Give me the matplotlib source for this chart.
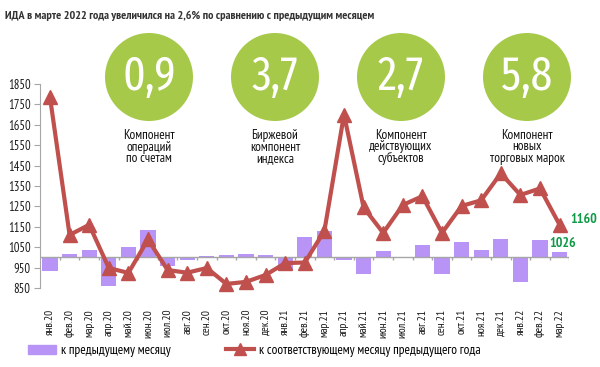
import matplotlib.pyplot as plt
from matplotlib.patches import Ellipse, Patch
from matplotlib.lines import Line2D

plt.rcParams['font.family'] = ['PT Sans Narrow', 'DejaVu Sans']

months = ['янв.20', 'фев.20', 'мар.20', 'апр.20', 'май.20', 'июн.20', 'июл.20',
          'авг.20', 'сен.20', 'окт.20', 'ноя.20', 'дек.20', 'янв.21', 'фев.21',
          'мар.21', 'апр.21', 'май.21', 'июн.21', 'июл.21', 'авг.21', 'сен.21',
          'окт.21', 'ноя.21', 'дек.21', 'янв.22', 'фев.22', 'мар.22']

# к предыдущему месяцу (bars start at 1000)
mom = [935, 1015, 1035, 860, 1052, 1132, 960, 985, 1005, 1010, 1015, 1012,
       935, 1100, 1130, 988, 920, 1032, 1001, 1060, 920, 1075, 1038, 1088,
       880, 1085, 1026]

# к соответствующему месяцу предыдущего года
yoy = [1785, 1110, 1160, 948, 924, 1088, 938, 925, 948, 870, 880, 914,
       972, 975, 1130, 1700, 1245, 1120, 1257, 1300, 1120, 1252, 1280,
       1412, 1306, 1338, 1160]

comp_values = ['0,9', '3,7', '2,7', '5,8']
comp_labels = ['Компонент\nопераций\nпо счетам', 'Биржевой\nкомпонент\nиндекса',
               'Компонент\nдействующих\nсубъектов', 'Компонент\nновых\nторговых марок']

bar_color = '#b794f6'
line_color = '#c0504d'
green = '#a6c94a'
W, H = 600, 367

fig = plt.figure(figsize=(6, 3.67), dpi=100)

# overlay in pixel coordinates for the infographic circles
deco = fig.add_axes([0, 0, 1, 1], zorder=0)
deco.set_xlim(0, W)
deco.set_ylim(H, 0)
deco.axis('off')
for cx, val, lab in zip([149, 275, 401, 527], comp_values, comp_labels):
    deco.add_patch(Ellipse((cx, 77), 88, 88, color=green, lw=0))
    deco.text(cx, 77, val, color='white', fontsize=34, ha='center', va='center',
              family=['Fira Sans Extra Condensed', 'PT Sans Narrow'], fontweight='normal')
    deco.text(cx, 147, lab, color='#111111', fontsize=9.5, ha='center', va='center',
              linespacing=0.82)

fig.text(0.008, 0.958, 'ИДА в марте 2022 года увеличился на 2,6% по сравнению с предыдущим месяцем',
         fontsize=8.7, fontweight='bold', color='#333333', va='center')

ax = fig.add_axes([40.2 / W, 1 - 288 / H, 529.2 / W, 204 / H], zorder=2)
ax.patch.set_alpha(0)
x = range(len(months))
ax.bar(x, [v - 1000 for v in mom], bottom=1000, width=0.78, color=bar_color, zorder=1)
ax.plot(x, yoy, color=line_color, lw=3, marker='^', markersize=10, zorder=3,
        clip_on=False)
ax.axhline(1000, color='#a6a6a6', lw=1, zorder=2)
ax.vlines([i + 0.5 for i in range(len(months))], 985, 1000, color='#a6a6a6', lw=1, zorder=2)

ax.set_xlim(-0.5, len(months) - 0.5)
ax.set_ylim(850, 1850)
ax.set_yticks(range(850, 1851, 100))
ax.set_xticks(list(x))
ax.set_xticklabels(months, rotation=90, fontsize=8.3, color='#1a1a1a')
ax.tick_params(axis='x', length=0, pad=15)
ax.tick_params(axis='y', labelsize=9, colors='#1a1a1a', color='#a6a6a6', length=4, pad=3)
for s in ['top', 'right', 'bottom']:
    ax.spines[s].set_visible(False)
ax.spines['left'].set_color('#a6a6a6')

ax.text(len(months) - 0.45, yoy[-1] + 28, str(yoy[-1]), color='#109a48', fontsize=10,
        fontweight='bold', va='center', ha='left', clip_on=False)
ax.text(len(months) - 1.55, mom[-1] + 40, str(mom[-1]), color='#109a48', fontsize=10,
        fontweight='bold', va='center', ha='left')

handles = [Patch(color=bar_color),
           Line2D([], [], color=line_color, lw=3, marker='^', markersize=9)]
fig.legend(handles, ['к предыдущему месяцу', 'к соответствующему месяцу предыдущего года'],
           loc='center left', bbox_to_anchor=(0.027, 0.045), ncol=2, frameon=False,
           fontsize=9.5, handlelength=2.1, columnspacing=4.2, handletextpad=0.4)

fig.savefig('out.png', dpi=100)
